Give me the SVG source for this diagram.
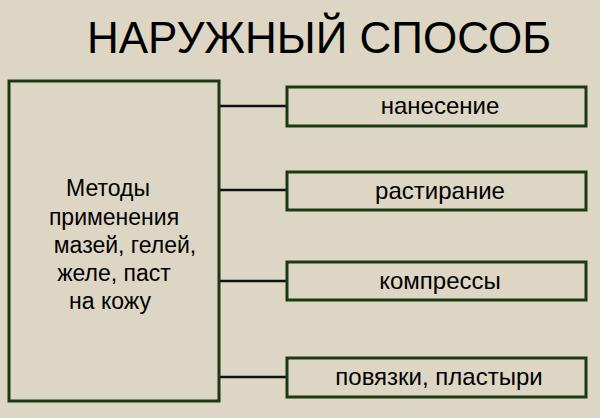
<svg xmlns="http://www.w3.org/2000/svg" width="600" height="418" viewBox="0 0 600 418">
<style>
.b{fill:none;stroke:#1b3a14;stroke-width:3}
.c{stroke:#111;stroke-width:2.5}
text{font-family:"Liberation Sans",Arial,sans-serif;fill:#000}
.t{font-size:23px;text-anchor:middle}
.r{font-size:24px;text-anchor:middle}
</style>
<rect width="600" height="418" fill="#ddd6c4"/>
<text x="319" y="53" font-size="44" text-anchor="middle">НАРУЖНЫЙ СПОСОБ</text>
<g id="connectors">
<line class="c" x1="219" y1="106" x2="287" y2="106"/>
<line class="c" x1="219" y1="190" x2="287" y2="190"/>
<line class="c" x1="219" y1="281" x2="287" y2="281"/>
<line class="c" x1="219" y1="377" x2="287" y2="377"/>
</g>
<g id="main"><rect class="b" x="9" y="81" width="210" height="320"/>
<text class="t" x="108" y="196">Методы</text>
<text class="t" x="114" y="225">применения</text>
<text class="t" x="125" y="253">мазей, гелей,</text>
<text class="t" x="114" y="281">желе, паст</text>
<text class="t" x="110" y="309">на кожу</text></g>
<g id="n1"><rect class="b" x="287" y="87" width="299" height="39"/><text class="r" x="440" y="114">нанесение</text></g>
<g id="n2"><rect class="b" x="287" y="172" width="299" height="38"/><text class="r" x="440" y="199">растирание</text></g>
<g id="n3"><rect class="b" x="287" y="262" width="299" height="38"/><text class="r" x="440" y="289">компрессы</text></g>
<g id="n4"><rect class="b" x="287" y="358" width="299" height="39"/><text class="r" x="439" y="385">повязки, пластыри</text></g>
</svg>
